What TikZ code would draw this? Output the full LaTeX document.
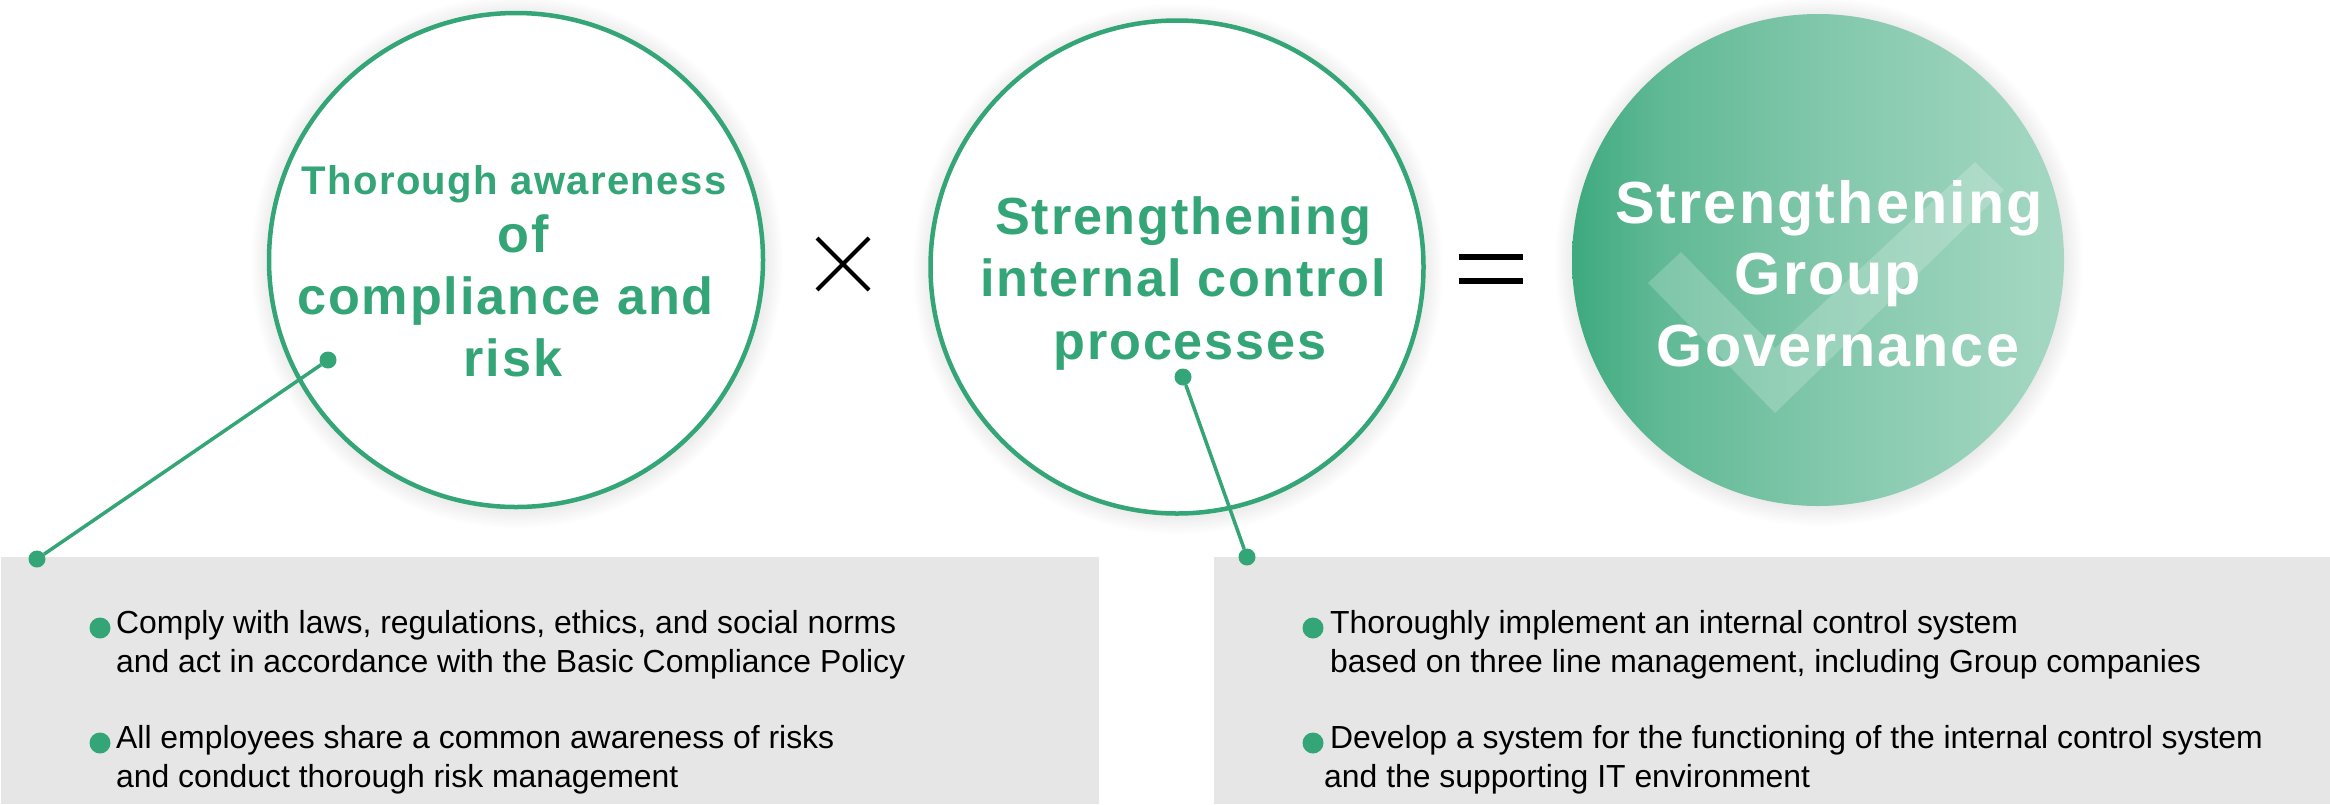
\documentclass[tikz,border=0pt]{standalone}
\usepackage{fontspec}
\setmainfont{Liberation Sans}
\newfontfamily\headA[LetterSpace=3.5]{Liberation Sans}
\definecolor{brand}{HTML}{33A577}
\definecolor{panel}{HTML}{E6E6E6}
\pgfdeclarehorizontalshading{discfill}{100bp}{
  color(0bp)=(brand!95!white);
  color(25bp)=(brand!95!white);
  color(34bp)=(brand!78!white);
  color(50bp)=(brand!62!white);
  color(66bp)=(brand!50!white);
  color(75bp)=(brand!44!white);
  color(100bp)=(brand!44!white)}
\tikzset{
  ring/.style={circle,draw=brand,line width=4.5pt,fill=white,minimum size=#1,inner sep=0pt,outer sep=0pt},
  disc/.style={circle,minimum size=#1,inner sep=0pt,outer sep=0pt,shading=discfill},
  pin/.style={circle,fill=brand,minimum size=17pt,inner sep=0pt,outer sep=0pt},
  bullet/.style={circle,fill=brand,minimum size=21pt,inner sep=0pt,outer sep=0pt},
  wire/.style={draw=brand,line width=3.5pt},
  panelbox/.style={fill=panel,draw=none,inner sep=0pt,outer sep=0pt,anchor=north west},
  head/.style={anchor=base,inner sep=0pt,text=brand,font=\headA\bfseries\fontsize{#1}{#1}\selectfont},
  headw/.style={anchor=base,inner sep=0pt,text=white,font=\headA\bfseries\fontsize{#1}{#1}\selectfont},
  body/.style={anchor=base west,inner sep=0pt,align=left,text=black,font=\fontsize{31.9}{39}\selectfont},
  sym/.style={draw=black}
}
\newcommand{\softshadow}[3]{%
  \foreach \k in {1,...,12}{\fill[black,opacity=0.007] (#1,#2) circle[radius=#3+20-\k*2.0];}}
\begin{document}
\begin{tikzpicture}[x=1pt,y=-1pt]
\useasboundingbox (0,0) rectangle (2330,804);
% panels
\node[panelbox,minimum width=1098pt,minimum height=247pt] (panelL) at (1,557) {};
\node[panelbox,minimum width=1116pt,minimum height=247pt] (panelR) at (1214,557) {};
% shadows
\softshadow{517}{262}{248}
\softshadow{1178}{269}{247}
\softshadow{1819}{262}{246}
% circles
\node[ring=494pt] (c1) at (516,260) {};
\node[ring=493pt] (c2) at (1177,267) {};
\node[disc=492pt] (c3) at (1818,260) {};
% check mark
\fill[white,opacity=0.2] (1648,283) -- (1681,252) -- (1775,348) -- (1975,162) -- (2004,190) -- (1775,413) -- cycle;
% operators
\coordinate (xa) at (817,238); \coordinate (xb) at (869,290);
\coordinate (xc) at (869,238); \coordinate (xd) at (817,290);
\draw[sym,line width=4pt] (xa) -- (xb);
\draw[sym,line width=4pt] (xc) -- (xd);
\coordinate (ea) at (1459,257); \coordinate (eb) at (1523,257);
\coordinate (ec) at (1459,281); \coordinate (ed) at (1523,281);
\draw[sym,line width=6pt] (ea) -- (eb);
\draw[sym,line width=6pt] (ec) -- (ed);
% headings
\node[head=40] (t1a) at (514,194) {Thorough awareness};
\node[head=52.2] (t1b) at (523,252) {of};
\node[head=52.2] (t1c) at (505.5,314) {compliance and};
\node[head=52.2] (t1d) at (513,376) {risk};
\node[head=52.2] (t2a) at (1183,234) {Strengthening};
\node[head=52.2] (t2b) at (1183,296) {internal control};
\node[head=52.2] (t2c) at (1190,359) {processes};
\node[headw=59.4] (t3a) at (1829,223) {Strengthening};
\node[headw=59.4] (t3b) at (1828,294) {Group};
\node[headw=59.4] (t3c) at (1838,366) {Governance};
% connectors
\node[pin] (p1) at (328,360) {};
\node[pin] (p2) at (37,559) {};
\node[pin] (p3) at (1183,377) {};
\node[pin] (p4) at (1247,557) {};
\draw[wire] (p1) -- (p2);
\draw[wire] (p3) -- (p4);
% left items
\node[bullet] (b1) at (100,628) {};
\node[body] (i1) at (116,672) {Comply with laws, regulations, ethics, and social norms\\and act in accordance with the Basic Compliance Policy};
\node[bullet] (b2) at (100,743) {};
\node[body] (i2) at (116,787) {All employees share a common awareness of risks\\and conduct thorough risk management};
% right items
\node[bullet] (b3) at (1313,628) {};
\node[body] (i3) at (1330,672) {Thoroughly implement an internal control system\\based on three line management, including Group companies};
\node[bullet] (b4) at (1313,743) {};
\node[body] (i4) at (1330,787) {Develop a system for the functioning of the internal control system\\\hspace*{-6pt}and the supporting IT environment};
\end{tikzpicture}
\end{document}
